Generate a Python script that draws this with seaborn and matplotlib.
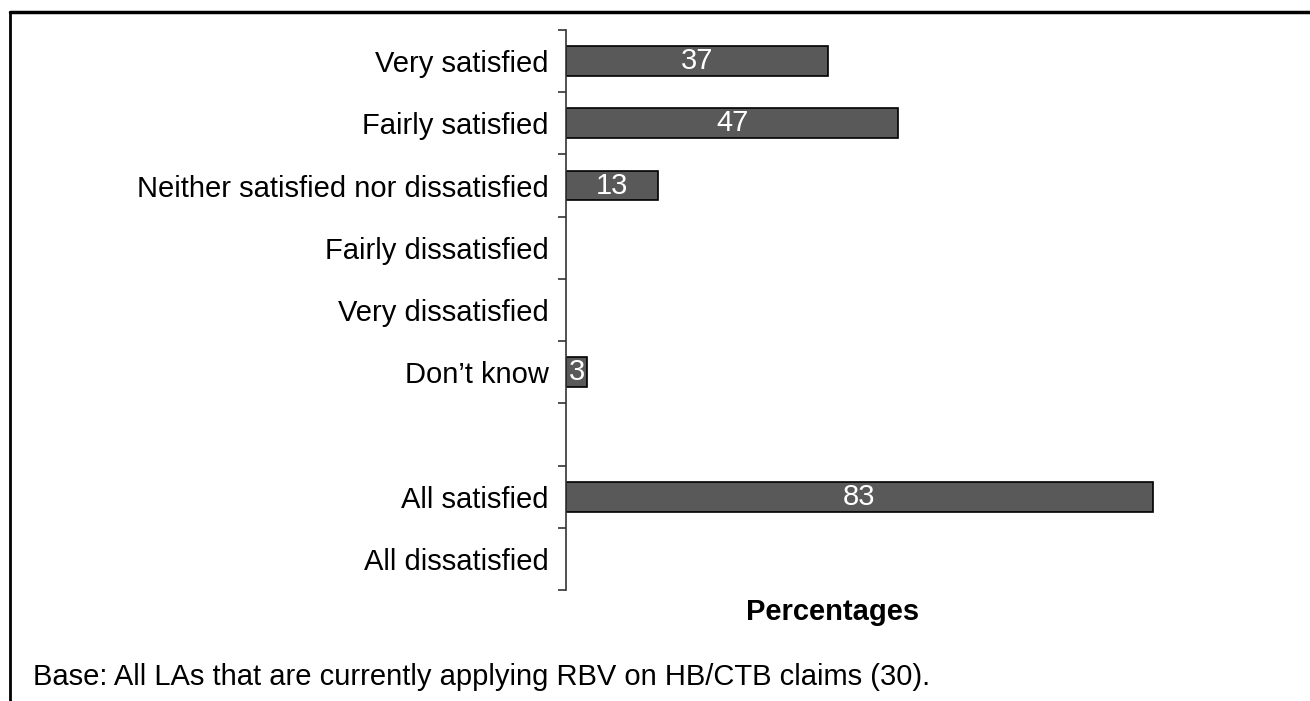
import numpy as np
import pandas as pd
import seaborn as sns
import matplotlib.pyplot as plt
from matplotlib.lines import Line2D

# 資料: 各類別的百分比 (0 = 無長條)
categories = ['Very satisfied', 'Fairly satisfied', 'Neither satisfied nor dissatisfied',
              'Fairly dissatisfied', 'Very dissatisfied', 'Don\u2019t know', ' ',
              'All satisfied', 'All dissatisfied']
values = [37, 47, 13, 0, 0, 3, 0, 83, 0]
base_note = 'Base: All LAs that are currently applying RBV on HB/CTB claims (30).'
x_label = 'Percentages'

sns.set_theme(style='white')
plt.rcParams['font.family'] = ['Liberation Sans', 'DejaVu Sans']
plt.rcParams['text.color'] = 'black'
plt.rcParams['axes.labelcolor'] = 'black'
plt.rcParams['ytick.color'] = 'black'

df = pd.DataFrame({'category': categories, 'value': values})
df_bars = df[df['value'] > 0]

fig = plt.figure(figsize=(13.1, 7.01), dpi=100)
ax = fig.add_axes([566 / 1310, 1 - 590 / 701, 707 / 1310, 560 / 701])

sns.barplot(data=df_bars, x='value', y='category', order=categories, orient='h',
            color='#595959', saturation=1, edgecolor='black', linewidth=1.2,
            width=0.48, ax=ax)

# 長條內的白色數值
for i, (cat, v) in enumerate(zip(categories, values)):
    if v > 0:
        ax.text(v / 2, i, f'{v}', ha='center', va='center', color='white', fontsize=21)

ax.set_xlim(0, 100)
ax.set_ylim(len(categories) - 0.5, -0.5)
ax.set_yticks(np.arange(len(categories) + 1) - 0.5)
ax.set_yticks(np.arange(len(categories)), minor=True)
ax.set_yticklabels([])
ax.set_yticklabels(categories, minor=True, fontsize=21)
ax.tick_params(axis='y', which='major', direction='out', length=6, width=1.2,
               color='#333333', left=True)
ax.tick_params(axis='y', which='minor', length=0, pad=12.5)
ax.set_xticks([])
ax.set_ylabel('')
ax.set_xlabel(x_label, fontsize=21, fontweight='bold')
ax.xaxis.set_label_coords((833 - 566) / 707, -(612 - 590) / 560)
ax.xaxis.label.set_va('center')
for side in ['top', 'right', 'bottom']:
    ax.spines[side].set_visible(False)
ax.spines['left'].set_color('#333333')
ax.spines['left'].set_linewidth(1.2)

fig.text(33 / 1310, 1 - 677 / 701, base_note, ha='left', va='center', fontsize=21)

# 外框 (上方與左側)
fig.add_artist(Line2D([10 / 1310, 1], [1 - 12 / 701, 1 - 12 / 701], color='black', linewidth=2.5))
fig.add_artist(Line2D([10 / 1310, 10 / 1310], [0, 1 - 12 / 701], color='black', linewidth=2))

fig.savefig('out.png', dpi=100)
